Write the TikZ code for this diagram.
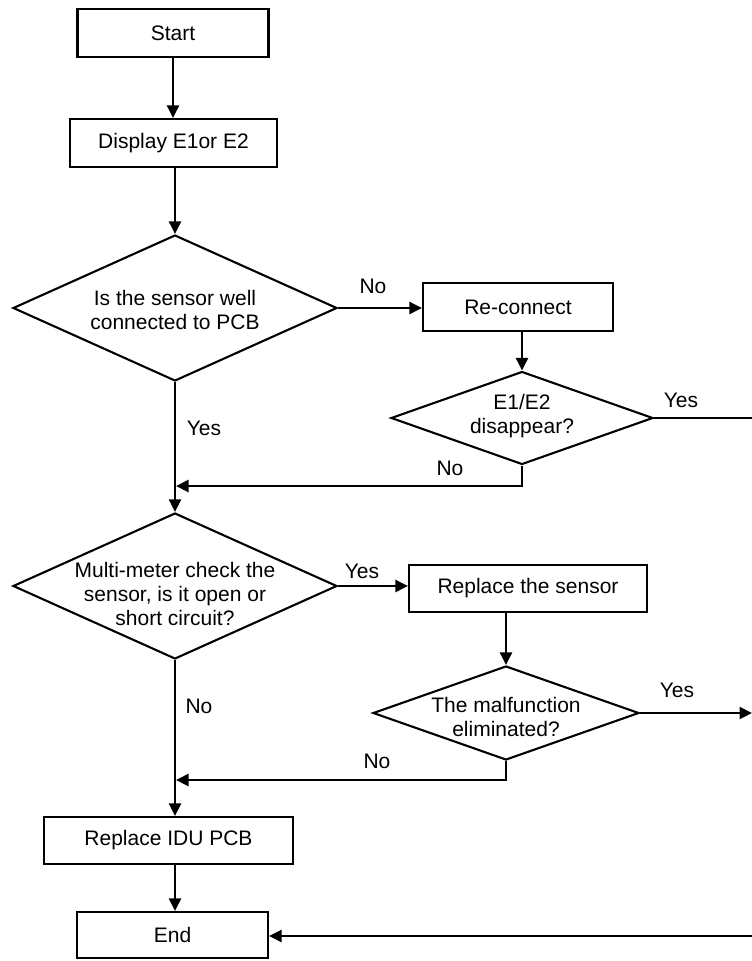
\documentclass[tikz,border=0pt]{standalone}
\usepackage{fontspec}
\setmainfont{Liberation Sans}
\usetikzlibrary{shapes.geometric,arrows.meta}
\begin{document}
\begin{tikzpicture}[x=1pt,y=-1pt,
  every node/.style={font=\fontsize{21}{24}\selectfont},
  box/.style={draw, line width=2.1pt, rectangle, inner sep=0pt},
  dia/.style={draw, line width=2.1pt, diamond, inner sep=0pt},
  txt/.style={align=center, inner sep=0pt},
  lbl/.style={inner sep=0pt, anchor=base},
  conn/.style={line width=2.1pt},
  arr/.style={conn, -{Triangle[length=12.5pt,width=12pt]}}]
\useasboundingbox (0,0) rectangle (752,961);
% process boxes
\node[box, minimum width=191pt, minimum height=48pt] (start) at (173,33) {Start};
\node[box, minimum width=207pt, minimum height=48pt] (disp) at (173.5,143) {Display E1or E2};
\node[box, minimum width=190pt, minimum height=48pt] (reconn) at (518,307) {Re-connect};
\node[box, minimum width=238pt, minimum height=47pt] (sensor) at (528,588.5) {Replace the sensor};
\node[box, minimum width=249pt, minimum height=47pt] (idu) at (168.5,840.5) {Replace IDU PCB};
\node[box, minimum width=191pt, minimum height=46pt] (end) at (172.5,935) {End};
% decisions
\node[dia, minimum width=324pt, minimum height=146pt] (d1) at (175,308) {};
\node[txt] (t1) at (175,310) {Is the sensor well\\connected to PCB};
\node[dia, minimum width=262pt, minimum height=93pt] (d2) at (522,418) {};
\node[txt] (t2) at (522,416) {E1/E2\\disappear?};
\node[dia, minimum width=324pt, minimum height=146pt] (d3) at (175,586) {};
\node[txt] (t3) at (175,594) {Multi-meter check the\\sensor, is it open or\\short circuit?};
\node[dia, minimum width=266pt, minimum height=94pt] (d4) at (506,713) {};
\node[txt] (t4) at (506,717) {The malfunction\\eliminated?};
% coordinates
\coordinate (o1) at (752,418);
\coordinate (o2) at (752,713);
\coordinate (o3) at (752,936);
\coordinate (j1) at (176,486);
\coordinate (j2) at (176,780);
% connectors
\draw[arr] (start.south) -- (start.south |- disp.north);
\draw[arr] (d1.north |- disp.south) -- (d1.north);
\draw[arr] (d1.east) -- (d1.east -| reconn.west);
\draw[arr] (d2.north |- reconn.south) -- (d2.north);
\draw[conn] (d2.east) -- (o1);
\draw[arr] (d2.south) |- (j1);
\draw[arr] (d1.south) -- (d3.north);
\draw[arr] (d3.east) -- (d3.east -| sensor.west);
\draw[arr] (d4.north |- sensor.south) -- (d4.north);
\draw[arr] (d4.east) -- (o2);
\draw[arr] (d4.south) |- (j2);
\draw[arr] (d3.south) -- (d3.south |- idu.north);
\draw[arr] (d3.south |- idu.south) -- (d3.south |- end.north);
\draw[arr] (o3) -- (o3 -| end.east);
% labels
\node[lbl] (lno1) at (373,293) {No};
\node[lbl] (lyes1) at (681,407) {Yes};
\node[lbl] (lyes2) at (204,435) {Yes};
\node[lbl] (lno2) at (450,475) {No};
\node[lbl] (lyes3) at (362,578) {Yes};
\node[lbl] (lyes4) at (677,697) {Yes};
\node[lbl] (lno3) at (199,713) {No};
\node[lbl] (lno4) at (377,768) {No};
\end{tikzpicture}
\end{document}
